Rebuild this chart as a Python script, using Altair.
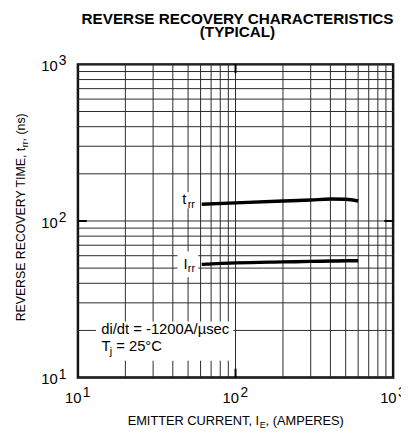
import altair as alt
import pandas as pd

FONT = "Liberation Sans"
W, H = 320, 318

# ---------------- data ----------------
title_lines = ["REVERSE RECOVERY CHARACTERISTICS", "(TYPICAL)"]
grid_vals = [10, 20, 30, 40, 50, 60, 70, 80, 90,
             100, 200, 300, 400, 500, 600, 700, 800, 900, 1000]
decades = [10, 100, 1000]
exponents = ["1", "2", "3"]
major_mid = [100]

trr_ie = [61, 100, 200, 300, 400, 500, 600]
trr_ns = [128, 130.5, 134, 136, 138, 137.5, 134]
irr_ie = [61, 100, 200, 300, 400, 500, 600]
irr_val = [52.8, 54.0, 54.8, 55.2, 55.5, 55.7, 55.8]

# white label backgrounds (data coordinates)
box_x1 = [13.0, 45.0, 42.8]
box_x2 = [97.0, 58.0, 58.0]
box_y1 = [12.8, 120.7, 43.8]
box_y2 = [22.8, 152.7, 63.8]

# annotation anchors (data coordinates)
didt_text = "di/dt = -1200A/\u00b5sec"
didt_x, didt_y = 14.06, 19.05
tj_x, tj_y = 14.1, 14.68
trr_lab_x, trr_lab_y = 45.97, 129.2
irr_lab_x, irr_lab_y = 46.7, 49.7

# ---------------- frames ----------------
curve_df = pd.DataFrame({
    "ie": trr_ie + irr_ie,
    "v": trr_ns + irr_val,
    "series": ["trr"] * len(trr_ie) + ["irr"] * len(irr_ie),
})
grid_df = pd.DataFrame({"g": grid_vals})
box_df = pd.DataFrame({"x1": box_x1, "x2": box_x2, "y1": box_y1, "y2": box_y2})
lab_df = pd.DataFrame({"v": decades, "base": ["10"] * 3, "e": exponents})
mid_df = pd.DataFrame({"v": major_mid})
one = pd.DataFrame({"k": [0]})

xs = alt.Scale(type="log", domain=[10, 1000], nice=False)
ys = alt.Scale(type="log", domain=[10, 1000], nice=False)

GRID = "#2a2a2a"
vgrid = alt.Chart(grid_df).mark_rule(color=GRID, strokeWidth=1).encode(
    x=alt.X("g:Q", scale=xs, axis=None), y=alt.value(0), y2=alt.value(H))
hgrid = alt.Chart(grid_df).mark_rule(color=GRID, strokeWidth=1).encode(
    y=alt.Y("g:Q", scale=ys, axis=None), x=alt.value(0), x2=alt.value(W))

boxes = alt.Chart(box_df).mark_rect(color="white").encode(
    x=alt.X("x1:Q", scale=xs, axis=None), x2="x2:Q",
    y=alt.Y("y1:Q", scale=ys, axis=None), y2="y2:Q")

curves = alt.Chart(curve_df).mark_line(
    color="black", strokeWidth=3.5, interpolate="monotone").encode(
    x=alt.X("ie:Q", scale=xs, axis=None),
    y=alt.Y("v:Q", scale=ys, axis=None),
    detail="series:N")

# inward major ticks at 10^2
tick_l = alt.Chart(mid_df).mark_rule(color="black", strokeWidth=2).encode(
    x=alt.value(0), x2=alt.value(9), y=alt.Y("v:Q", scale=ys, axis=None))
tick_r = alt.Chart(mid_df).mark_rule(color="black", strokeWidth=2).encode(
    x=alt.value(W - 9), x2=alt.value(W), y=alt.Y("v:Q", scale=ys, axis=None))
tick_b = alt.Chart(mid_df).mark_rule(color="black", strokeWidth=2).encode(
    y=alt.value(H - 9), y2=alt.value(H), x=alt.X("v:Q", scale=xs, axis=None))
tick_t = alt.Chart(mid_df).mark_rule(color="black", strokeWidth=2).encode(
    y=alt.value(0), y2=alt.value(9), x=alt.X("v:Q", scale=xs, axis=None))


def txt(df, **kw):
    base = dict(font=FONT, color="black", baseline="alphabetic")
    base.update(kw)
    return alt.Chart(df).mark_text(**base)


# tick labels
ylab = txt(lab_df, align="right", fontSize=15, dy=7).encode(
    x=alt.value(-20.5), y=alt.Y("v:Q", scale=ys, axis=None), text="base:N")
yexp = txt(lab_df, align="left", fontSize=14, dy=1).encode(
    x=alt.value(-19.5), y=alt.Y("v:Q", scale=ys, axis=None), text="e:N")
XLAB_Y = 344
xlab = txt(lab_df, align="right", fontSize=15, dx=3.5).encode(
    x=alt.X("v:Q", scale=xs, axis=None), y=alt.value(XLAB_Y), text="base:N")
xexp = txt(lab_df, align="left", fontSize=14, dx=5, dy=-6).encode(
    x=alt.X("v:Q", scale=xs, axis=None), y=alt.value(XLAB_Y), text="e:N")

# title
t1 = txt(one, align="center", fontSize=15.5, fontWeight="bold", text=title_lines[0]).encode(
    x=alt.value(162), y=alt.value(-41))
t2 = txt(one, align="center", fontSize=15.5, fontWeight="bold", text=title_lines[1]).encode(
    x=alt.value(162), y=alt.value(-27.5))

# x axis title with subscript
XT_X, XT_Y = 184, 366
xt1 = txt(one, align="right", fontSize=13, text="EMITTER CURRENT, I").encode(
    x=alt.value(XT_X), y=alt.value(XT_Y))
xt2 = txt(one, align="left", fontSize=9, dx=0.5, dy=3, text="E").encode(
    x=alt.value(XT_X), y=alt.value(XT_Y))
xt3 = txt(one, align="left", fontSize=13, dx=6.5, text=", (AMPERES)").encode(
    x=alt.value(XT_X), y=alt.value(XT_Y))

# y axis title with subscript (rotated)
YT_X, YT_Y = -54, 84.7
yt1 = txt(one, align="right", fontSize=12.5, angle=270, text="REVERSE RECOVERY TIME, t").encode(
    x=alt.value(YT_X), y=alt.value(YT_Y))
yt2 = txt(one, align="left", fontSize=9, angle=270, dx=0.5, dy=3, text="rr").encode(
    x=alt.value(YT_X), y=alt.value(YT_Y))
yt3 = txt(one, align="left", fontSize=12.5, angle=270, dx=6.5, text=", (ns)").encode(
    x=alt.value(YT_X), y=alt.value(YT_Y))


# in-plot annotations
def anchor_df(x, y):
    return pd.DataFrame({"x": [x], "y": [y]})


AT = dict(x=alt.X("x:Q", scale=xs, axis=None), y=alt.Y("y:Q", scale=ys, axis=None))

didt_df = anchor_df(didt_x, didt_y)
tj_df = anchor_df(tj_x, tj_y)
trr_df = anchor_df(trr_lab_x, trr_lab_y)
irr_df = anchor_df(irr_lab_x, irr_lab_y)

a1 = txt(didt_df, align="left", fontSize=15, text=didt_text).encode(**AT)
a2 = txt(tj_df, align="left", fontSize=15, text="T").encode(**AT)
a3 = txt(tj_df, align="left", fontSize=11, dx=8.5, dy=4, text="j").encode(**AT)
a4 = txt(tj_df, align="left", fontSize=15, dx=15, text="= 25\u00b0C").encode(**AT)
a5 = txt(trr_df, align="left", fontSize=15, text="t").encode(**AT)
a6 = txt(trr_df, align="left", fontSize=11, dx=5.5, dy=4.5, text="rr").encode(**AT)
a7 = txt(irr_df, align="left", fontSize=15, text="I").encode(**AT)
a8 = txt(irr_df, align="left", fontSize=11, dx=4.5, dy=4, text="rr").encode(**AT)

chart = alt.layer(
    vgrid, hgrid, boxes, curves, tick_l, tick_r, tick_b, tick_t,
    ylab, yexp, xlab, xexp, t1, t2, xt1, xt2, xt3, yt1, yt2, yt3,
    a1, a2, a3, a4, a5, a6, a7, a8,
).properties(
    width=W, height=H,
    autosize=alt.AutoSizeParams(type="none"),
    padding={"left": 71, "top": 54, "right": 8, "bottom": 50},
    background="white",
).configure_view(stroke="black", strokeWidth=2.5)

chart.save("out.html", embed_options={"renderer": "svg", "actions": False})
